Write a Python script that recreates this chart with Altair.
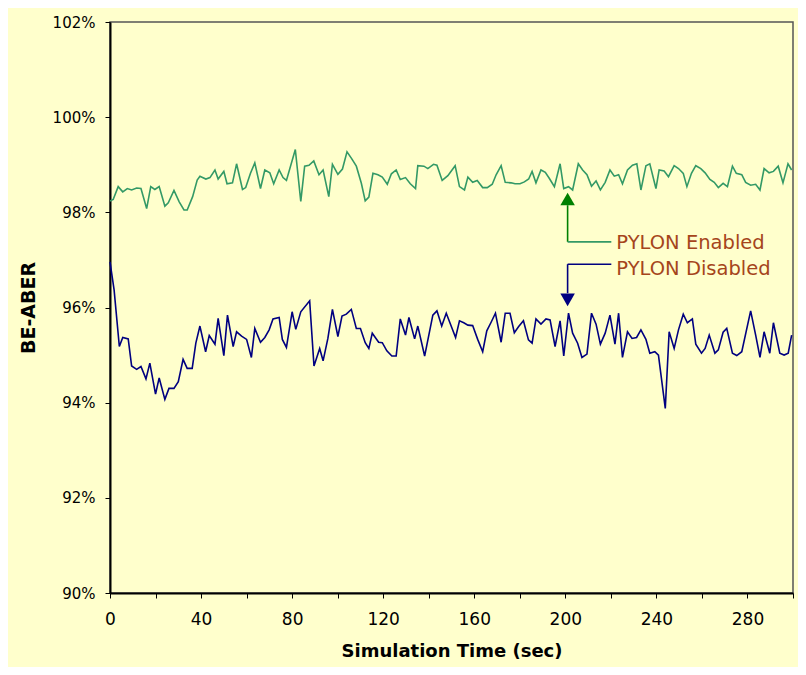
import altair as alt
import pandas as pd

# ---- data ----
enabled_time = [
    0, 1.4, 3.6, 5.6, 7.6, 9.5, 11.7, 13.6, 16.1, 17.9,
    19.7, 21.6, 24.1, 25.6, 28.1, 30.4, 32.5, 33.9, 36.3, 38.3,
    39.5, 42.1, 43.9, 46.1, 47.5, 50.0, 51.4, 53.8, 55.6, 58.2,
    59.6, 61.7, 63.6, 66.1, 68.0, 70.2, 71.9, 74.3, 76.0, 77.5,
    81.4, 83.8, 85.5, 87.4, 89.5, 91.8, 93.6, 96.1, 97.7, 100.1,
    102.1, 104.1, 106.0, 108.2, 110.4, 112.1, 113.7, 115.5, 117.7, 119.6,
    121.8, 123.6, 125.7, 127.5, 129.8, 131.9, 134.2, 135.2, 137.9, 139.6,
    142.1, 143.6, 145.9, 148.4, 151.6, 153.5, 155.7, 157.2, 159.3, 161.3,
    163.7, 165.7, 167.9, 169.6, 171.8, 173.6, 176.2, 177.9, 180.1, 182.0,
    183.9, 185.4, 187.1, 189.3, 191.2, 193.0, 195.2, 197.7, 199.3, 201.4,
    203.2, 205.7, 207.6, 209.5, 211.5, 213.5, 215.4, 217.5, 219.6, 221.5,
    223.4, 225.1, 227.3, 229.5, 231.4, 233.2, 235.4, 237.1, 239.8, 241.2,
    243.4, 245.3, 247.8, 249.7, 251.8, 253.4, 255.4, 257.3, 259.5, 261.4,
    263.5, 265.4, 267.2, 269.3, 271.2, 273.4, 275.1, 277.5, 279.2, 281.4,
    283.6, 285.5, 287.3, 289.5, 291.4, 293.5, 295.6, 297.8, 299.4,
]
enabled_value = [
    98.24, 98.27, 98.54, 98.43, 98.50, 98.47, 98.51, 98.50, 98.08, 98.54,
    98.48, 98.54, 98.13, 98.20, 98.46, 98.22, 98.05, 98.05, 98.33, 98.68,
    98.76, 98.70, 98.73, 98.89, 98.70, 98.86, 98.60, 98.62, 99.02, 98.48,
    98.52, 98.82, 99.04, 98.50, 98.89, 98.83, 98.60, 98.89, 98.73, 98.67,
    99.32, 98.23, 98.97, 98.99, 99.08, 98.79, 98.89, 98.33, 99.01, 98.80,
    98.91, 99.27, 99.14, 98.97, 98.61, 98.24, 98.32, 98.82, 98.79, 98.74,
    98.59, 98.81, 98.89, 98.69, 98.73, 98.60, 98.50, 98.98, 98.97, 98.92,
    99.01, 98.99, 98.67, 98.77, 98.98, 98.54, 98.47, 98.74, 98.63, 98.67,
    98.52, 98.52, 98.59, 98.79, 98.98, 98.63, 98.62, 98.60, 98.60, 98.64,
    98.70, 98.86, 98.62, 98.89, 98.84, 98.71, 98.54, 99.02, 98.50, 98.54,
    98.47, 99.02, 98.89, 98.79, 98.55, 98.66, 98.47, 98.63, 98.89, 98.76,
    98.79, 98.60, 98.89, 98.99, 99.02, 98.47, 98.98, 99.02, 98.50, 98.89,
    98.87, 98.75, 98.98, 98.92, 98.82, 98.54, 98.82, 98.98, 98.92, 98.83,
    98.69, 98.63, 98.52, 98.61, 98.54, 98.97, 98.82, 98.79, 98.63, 98.57,
    98.59, 98.47, 98.92, 98.83, 98.86, 98.97, 98.62, 99.02, 98.89,
]
disabled_time = [
    0, 1.8, 4.1, 5.6, 8.0, 9.5, 11.7, 13.6, 15.8, 17.5,
    20.0, 21.6, 24.1, 25.9, 28.1, 30.0, 32.1, 33.9, 36.1, 37.7,
    39.5, 42.0, 43.6, 46.1, 47.5, 50.0, 51.6, 54.1, 55.6, 57.8,
    60.0, 62.1, 63.6, 66.1, 68.0, 69.9, 71.6, 74.3, 75.7, 77.5,
    80.0, 81.6, 83.8, 87.7, 89.6, 92.1, 93.6, 95.7, 97.7, 100.1,
    101.9, 103.8, 106.0, 108.2, 110.0, 112.1, 113.7, 115.2, 118.0, 119.6,
    121.6, 123.8, 125.7, 127.5, 129.8, 131.3, 133.8, 135.2, 138.2, 141.8,
    143.6, 145.7, 147.7, 151.8, 153.5, 155.4, 157.2, 159.3, 161.5, 163.7,
    165.5, 167.4, 169.3, 171.8, 173.6, 175.7, 177.6, 179.5, 181.6, 183.8,
    185.4, 187.1, 189.3, 191.5, 193.3, 195.5, 197.7, 199.3, 201.4, 203.2,
    205.4, 207.3, 209.5, 211.5, 213.5, 215.4, 217.5, 219.6, 221.8, 223.4,
    225.1, 227.3, 229.3, 231.3, 233.2, 235.4, 237.1, 239.3, 240.9, 243.9,
    245.6, 247.8, 249.7, 251.8, 253.6, 255.8, 257.3, 259.8, 261.4, 263.2,
    265.7, 267.2, 269.3, 270.9, 273.4, 275.3, 277.5, 281.4, 283.6, 285.5,
    287.3, 289.8, 291.4, 294.2, 296.1, 297.9, 299.4,
]
disabled_value = [
    96.96, 96.37, 95.18, 95.37, 95.34, 94.77, 94.70, 94.76, 94.50, 94.83,
    94.18, 94.52, 94.07, 94.30, 94.30, 94.44, 94.91, 94.72, 94.72, 95.25,
    95.61, 95.07, 95.41, 95.23, 95.77, 94.99, 95.84, 95.18, 95.49, 95.40,
    95.33, 94.95, 95.56, 95.27, 95.37, 95.53, 95.76, 95.79, 95.33, 95.16,
    95.91, 95.54, 95.91, 96.14, 94.77, 95.14, 94.88, 95.35, 95.96, 95.39,
    95.82, 95.86, 95.96, 95.56, 95.56, 95.26, 95.14, 95.46, 95.27, 95.26,
    95.09, 94.98, 94.98, 95.76, 95.42, 95.79, 95.34, 95.61, 94.98, 95.84,
    95.93, 95.61, 95.88, 95.37, 95.72, 95.68, 95.63, 95.62, 95.33, 95.07,
    95.51, 95.69, 95.88, 95.27, 95.88, 95.88, 95.47, 95.60, 95.72, 95.32,
    95.25, 95.76, 95.65, 95.76, 95.74, 95.18, 95.72, 94.98, 95.88, 95.46,
    95.25, 94.95, 95.02, 95.88, 95.65, 95.23, 95.46, 95.84, 95.23, 95.88,
    94.95, 95.49, 95.35, 95.37, 95.53, 95.33, 95.04, 95.07, 95.00, 93.88,
    95.49, 95.14, 95.53, 95.86, 95.68, 95.76, 95.23, 95.04, 95.14, 95.42,
    95.04, 95.11, 95.48, 95.56, 95.04, 94.99, 95.07, 95.93, 95.42, 94.95,
    95.49, 95.04, 95.68, 95.04, 95.00, 95.04, 95.42,
]

x_ticks = list(range(0, 301, 20))
y_ticks = list(range(90, 103, 2))

# annotation (callout) positions in data units
labels = ["PYLON Enabled", "PYLON Disabled"]
label_t = [222.4, 222.4]
label_v = [97.36, 96.80]
arrow_t = 201
enabled_arrow = dict(y_base=97.38, y_head=98.15, head=98.28, x_end=220.2)
disabled_arrow = dict(y_base=96.91, y_head=96.30, head=96.16, x_end=220.2)

GREEN = "#339966"
DKGREEN = "#008000"
NAVY = "#000080"
TEXT = "#A5451B"
FONT = "DejaVu Sans"

df_en = pd.DataFrame({"t": enabled_time, "v": enabled_value})
df_dis = pd.DataFrame({"t": disabled_time, "v": disabled_value})

xscale = alt.Scale(domain=[0, 300], nice=False, zero=False)
yscale = alt.Scale(domain=[90, 102], nice=False, zero=False)

x_axis = alt.Axis(
    values=x_ticks,
    labelExpr="(datum.value % 40 == 0 && datum.value < 300) ? datum.value : ''",
    title="Simulation Time (sec)",
    titleX=341.5, titleY=58, titleBaseline="middle", titleAlign="center",
    titleFont=FONT, titleFontSize=18, titleFontWeight="bold", titleColor="#000",
    labelFont=FONT, labelFontSize=17, labelColor="#000", labelPadding=13,
    tickSize=5, tickColor="#000", domainColor="#000", domainWidth=2,
    grid=False, labelFlush=False, labelOverlap=False,
)
y_axis = alt.Axis(
    values=y_ticks,
    labelExpr="datum.value + '%'",
    title="BE-ABER",
    titleX=-82, titleY=285.5, titleAngle=270, titleBaseline="middle", titleAlign="center",
    titleFont=FONT, titleFontSize=19, titleFontWeight="bold", titleColor="#000",
    labelFont=FONT, labelFontSize=15, labelColor="#000", labelPadding=10,
    tickSize=5, tickColor="#000", domainColor="#000", domainWidth=2,
    grid=False, labelOverlap=False,
)

line_en = alt.Chart(df_en).mark_line(color=GREEN, strokeWidth=1.6).encode(
    x=alt.X("t:Q", scale=xscale, axis=x_axis),
    y=alt.Y("v:Q", scale=yscale, axis=y_axis),
)
line_dis = alt.Chart(df_dis).mark_line(color=NAVY, strokeWidth=1.6).encode(
    x=alt.X("t:Q", scale=xscale),
    y=alt.Y("v:Q", scale=yscale),
)

# callout rules
rules_df = pd.DataFrame({
    "x": [arrow_t, arrow_t, arrow_t, arrow_t],
    "x2": [arrow_t, enabled_arrow["x_end"], enabled_arrow["x_end"], arrow_t],
    "y": [enabled_arrow["y_base"], enabled_arrow["y_base"], disabled_arrow["y_base"], disabled_arrow["y_base"]],
    "y2": [enabled_arrow["y_head"], enabled_arrow["y_base"], disabled_arrow["y_base"], disabled_arrow["y_head"]],
    "c": [DKGREEN, GREEN, NAVY, NAVY],
})
rules = alt.Chart(rules_df).mark_rule(strokeWidth=1.6).encode(
    x=alt.X("x:Q", scale=xscale), x2="x2:Q",
    y=alt.Y("y:Q", scale=yscale), y2="y2:Q",
    color=alt.Color("c:N", scale=None),
)

heads_df = pd.DataFrame({
    "x": [arrow_t, arrow_t],
    "y": [enabled_arrow["head"], disabled_arrow["head"]],
    "shape": ["triangle-up", "triangle-down"],
    "c": [DKGREEN, NAVY],
})
heads = alt.Chart(heads_df).mark_point(filled=True, size=210, opacity=1).encode(
    x=alt.X("x:Q", scale=xscale),
    y=alt.Y("y:Q", scale=yscale),
    shape=alt.Shape("shape:N", scale=None),
    color=alt.Color("c:N", scale=None),
)

text_df = pd.DataFrame({"t": label_t, "v": label_v, "label": labels})
texts = alt.Chart(text_df).mark_text(
    align="left", baseline="middle", font=FONT, fontSize=19.5, color=TEXT
).encode(
    x=alt.X("t:Q", scale=xscale),
    y=alt.Y("v:Q", scale=yscale),
    text="label:N",
)

chart = alt.layer(line_en, line_dis, rules, heads, texts).properties(
    width=683,
    height=571,
    padding={"left": 102, "top": 14, "right": 5, "bottom": 74},
    autosize=alt.AutoSizeParams(type="none"),
    background="#FFFFCC",
).configure_view(
    stroke="#555555", strokeWidth=1.5, fill="#FFFFCC"
)

chart.save("out.html", embed_options={"renderer": "svg", "actions": False})
